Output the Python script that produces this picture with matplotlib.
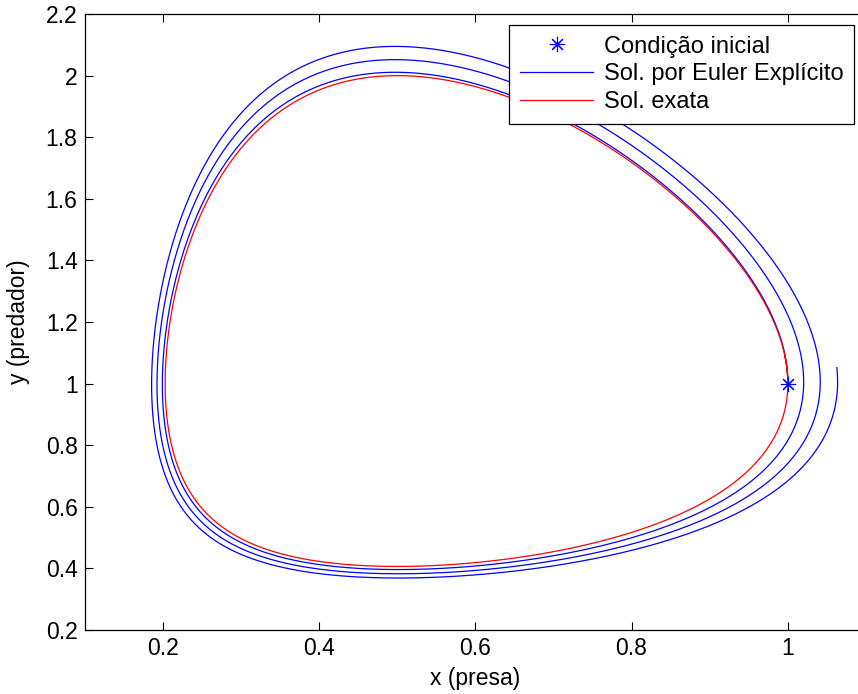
import numpy as np
import matplotlib
matplotlib.use("Agg")
import matplotlib.pyplot as plt

# Lotka-Volterra: x' = x (a - b y), y' = y (-c + d x)
a, b, c, d = 1.0, 1.0, 1.0, 2.0
x0, y0 = 1.0, 1.0
h = 0.01
t_end = 20.0
t_exact = 6.7


def rhs(u):
    x, y = u
    return np.array([x * (a - b * y), y * (-c + d * x)])


def euler(u0, h, n):
    out = np.empty((n + 1, 2))
    out[0] = u0
    for k in range(n):
        out[k + 1] = out[k] + h * rhs(out[k])
    return out


def rk4(u0, h, n):
    out = np.empty((n + 1, 2))
    out[0] = u0
    for k in range(n):
        u = out[k]
        k1 = rhs(u)
        k2 = rhs(u + 0.5 * h * k1)
        k3 = rhs(u + 0.5 * h * k2)
        k4 = rhs(u + h * k3)
        out[k + 1] = u + h / 6 * (k1 + 2 * k2 + 2 * k3 + k4)
    return out


u0 = np.array([x0, y0])
sol_euler = euler(u0, h, int(round(t_end / h)))
# one full orbit is enough for the closed curve
sol_exact = rk4(u0, 0.001, int(round(t_exact / 0.001)))

plt.rcParams["font.family"] = ["Liberation Sans", "DejaVu Sans"]
fs = 16.5
fig = plt.figure(figsize=(8.58, 6.94), dpi=100)
ax = fig.add_axes([84.5 / 858, 1 - 630 / 694, (866 - 84.5) / 858, (630 - 14) / 694])

ax.plot(x0, y0, linestyle="none", marker=(8, 2, 0), markersize=11, color="blue",
        markeredgewidth=0.8, label="Condição inicial", zorder=4)
ax.plot(sol_euler[:, 0], sol_euler[:, 1], color="blue", lw=0.9, label="Sol. por Euler Explícito")
ax.plot(sol_exact[:, 0], sol_exact[:, 1], color="red", lw=0.9, label="Sol. exata")

ax.set_xlim(0.1, 1.1)
ax.set_ylim(0.2, 2.2)
ax.set_xticks([0.2, 0.4, 0.6, 0.8, 1.0])
ax.set_xticklabels(["0.2", "0.4", "0.6", "0.8", "1"])
ax.set_yticks(np.arange(0.2, 2.21, 0.2))
ax.set_yticklabels(["0.2", "0.4", "0.6", "0.8", "1", "1.2", "1.4", "1.6", "1.8", "2", "2.2"])
ax.tick_params(direction="in", length=5.8, width=0.8, labelsize=fs, top=True, right=True, pad=5)
for s in ax.spines.values():
    s.set_linewidth(0.9)
ax.set_xlabel("x (presa)", fontsize=fs, labelpad=5)
ax.set_ylabel("y (predador)", fontsize=fs, labelpad=11)

leg = ax.legend(loc="upper right", bbox_to_anchor=(854 / 858, 1 - 25 / 694),
                bbox_transform=fig.transFigure, fontsize=17, fancybox=False,
                edgecolor="black", framealpha=1, borderpad=0.45, handlelength=3.1,
                handletextpad=0.45, labelspacing=0.24, borderaxespad=0)
leg.get_frame().set_linewidth(0.9)

fig.savefig("out.png", dpi=100)
